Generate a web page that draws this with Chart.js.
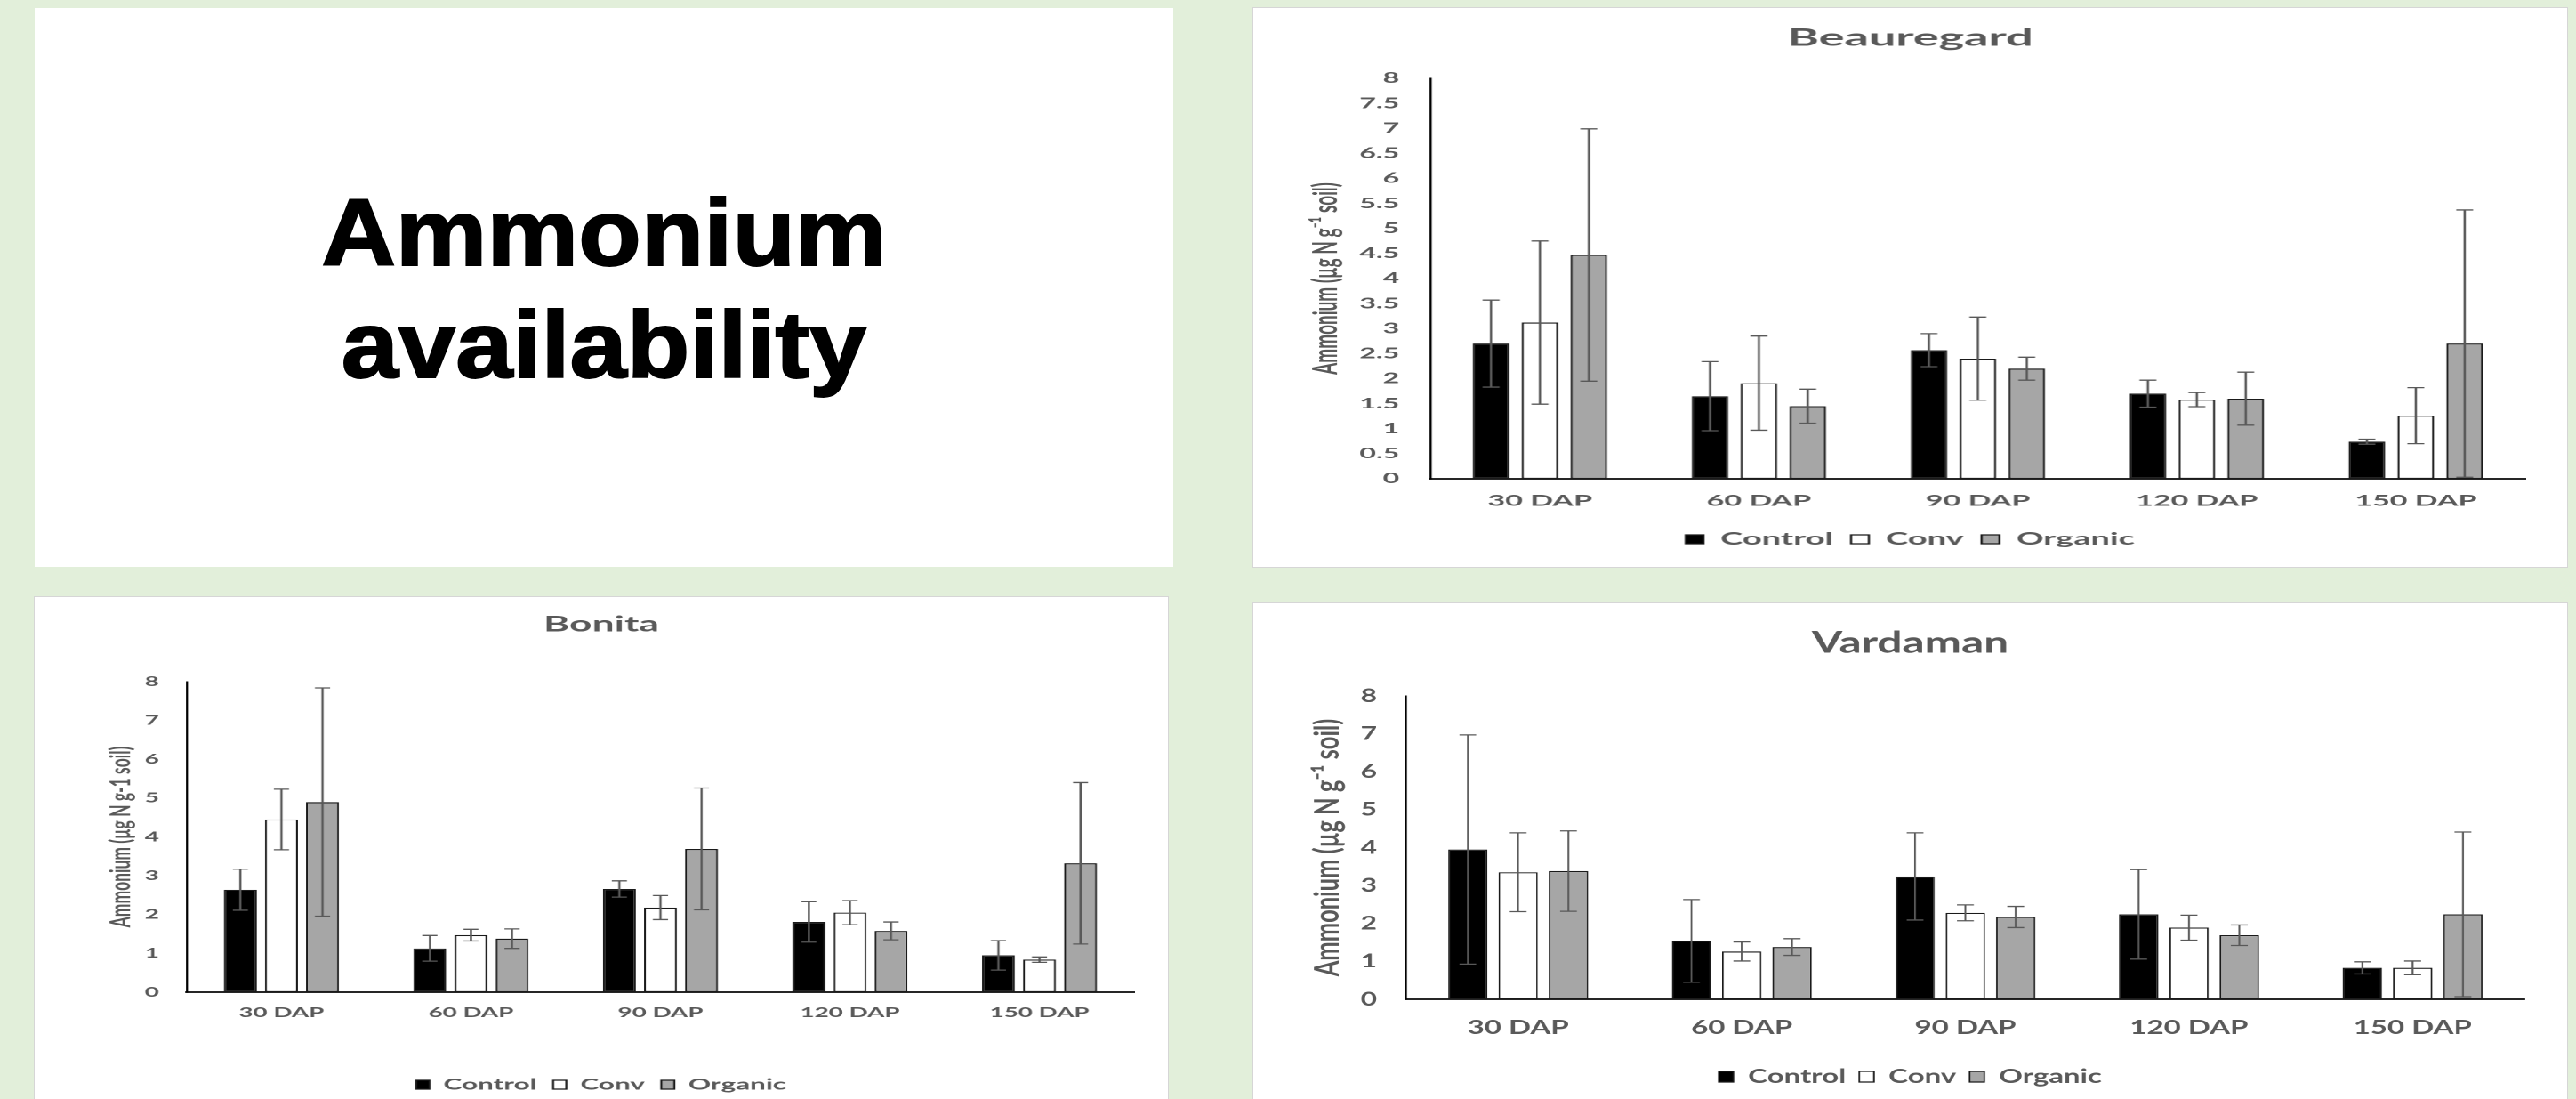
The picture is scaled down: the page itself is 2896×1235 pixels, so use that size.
<!DOCTYPE html>
<html>
<head>
<meta charset="utf-8">
<title>Ammonium availability</title>
<script src="https://cdn.jsdelivr.net/npm/chart.js@4.4.1/dist/chart.umd.min.js"></script>
<style>
    html, body {
        margin: 0;
        padding: 0;
        width: 2896px;
        height: 1235px;
        overflow: hidden;
        background: #e2efda;
    }
    .panel {
        position: absolute;
        background: #ffffff;
        overflow: hidden;
    }
    .chart-panel {
        box-shadow: 0 0 0 1px #d6d6d6;
    }
    .panel canvas {
        display: block;
        transform-origin: 0 0;
    }
    .big-title {
        position: absolute;
        left: 0;
        right: 0;
        top: 190px;
        text-align: center;
        font-family: "Liberation Sans", Arial, sans-serif;
        font-weight: bold;
        font-size: 105px;
        line-height: 126px;
        color: #000;
        -webkit-text-stroke: 2px #000;
        transform: scaleX(1.1);
    }
</style>
</head>
<body>

<div class="panel" style="left:39px; top:9px; width:1280px; height:628px;">
    <div class="big-title">Ammonium<br>availability</div>
</div>

<div class="panel chart-panel" style="left:1409px; top:9px; width:1477px; height:628px;">
    <canvas id="beauregardChart" width="738" height="628" style="transform:scaleX(2.00136);"></canvas>
</div>

<div class="panel chart-panel" style="left:39px; top:671px; width:1274px; height:580px;">
    <canvas id="bonitaChart" width="689" height="570" style="transform:scaleX(1.84906);"></canvas>
</div>

<div class="panel chart-panel" style="left:1409px; top:678px; width:1477px; height:580px;">
    <canvas id="vardamanChart" width="985" height="570" style="transform:scaleX(1.49949);"></canvas>
</div>

<script>
const categories = ['30 DAP', '60 DAP', '90 DAP', '120 DAP', '150 DAP'];
const seriesNames = ['Control', 'Conv', 'Organic'];

// Beauregard
const beauregardControl = [2.70, 1.65, 2.57, 1.70, 0.74];
const beauregardConv = [3.12, 1.91, 2.40, 1.58, 1.26];
const beauregardOrganic = [4.47, 1.45, 2.20, 1.60, 2.70];
const beauregardControlErr = [0.87, 0.69, 0.33, 0.27, 0.05];
const beauregardConvErr = [1.63, 0.94, 0.83, 0.14, 0.56];
const beauregardOrganicErr = [2.52, 0.34, 0.23, 0.53, 2.67];

// Bonita
const bonitaControl = [2.64, 1.13, 2.66, 1.81, 0.95];
const bonitaConv = [4.45, 1.47, 2.18, 2.05, 0.84];
const bonitaOrganic = [4.90, 1.38, 3.69, 1.58, 3.32];
const bonitaControlErr = [0.53, 0.33, 0.21, 0.52, 0.38];
const bonitaConvErr = [0.78, 0.15, 0.31, 0.31, 0.07];
const bonitaOrganicErr = [2.94, 0.25, 1.57, 0.23, 2.08];

// Vardaman
const vardamanControl = [3.95, 1.54, 3.24, 2.24, 0.83];
const vardamanConv = [3.35, 1.26, 2.28, 1.89, 0.83];
const vardamanOrganic = [3.38, 1.38, 2.17, 1.69, 2.24];
const vardamanControlErr = [3.02, 1.09, 1.15, 1.18, 0.16];
const vardamanConvErr = [1.04, 0.25, 0.21, 0.33, 0.18];
const vardamanOrganicErr = [1.06, 0.22, 0.28, 0.27, 2.17];

const FONT = 'Lato, "Open Sans", sans-serif';
const TEXT_COLOR = '#595959';
const FILLS = ['#000000', '#ffffff', '#a6a6a6'];

// Draws +/- error bars on top of every bar, using the chart's own y scale
const ErrorBars = {
    id: 'errorBars',
    afterDatasetsDraw(chart, _args, opts) {
        const ctx = chart.ctx;
        const yScale = chart.scales.y;
        ctx.save();
        ctx.strokeStyle = opts.color;
        ctx.lineWidth = opts.width;
        chart.data.datasets.forEach(function (ds, di) {
            const meta = chart.getDatasetMeta(di);
            meta.data.forEach(function (bar, i) {
                const v = ds.data[i];
                const e = ds.errors[i];
                const yTop = yScale.getPixelForValue(v + e);
                const yBot = yScale.getPixelForValue(Math.max(0, v - e));
                ctx.beginPath();
                ctx.moveTo(bar.x, yTop);
                ctx.lineTo(bar.x, yBot);
                ctx.moveTo(bar.x - opts.cap, yTop);
                ctx.lineTo(bar.x + opts.cap, yTop);
                ctx.moveTo(bar.x - opts.cap, yBot);
                ctx.lineTo(bar.x + opts.cap, yBot);
                ctx.stroke();
            });
        });
        ctx.restore();
    }
};

function makeDatasets(values, errors, L) {
    return seriesNames.map(function (name, i) {
        return {
            label: name,
            data: values[i],
            errors: errors[i],
            backgroundColor: FILLS[i],
            borderColor: '#1a1a1a',
            borderWidth: 1.2,
            borderSkipped: false,
            categoryPercentage: L.catPct,
            barPercentage: L.barPct
        };
    });
}

function buildChart(canvasId, title, values, errors, L) {
    const canvas = document.getElementById(canvasId);
    if (!canvas) return null;

    return new Chart(canvas, {
        type: 'bar',
        data: {
            labels: categories,
            datasets: makeDatasets(values, errors, L)
        },
        options: {
            responsive: false,
            animation: false,
            devicePixelRatio: 2,
            layout: {
                padding: { top: 0, left: 0, right: 0, bottom: L.padBottom }
            },
            plugins: {
                title: {
                    display: true,
                    text: title,
                    color: TEXT_COLOR,
                    font: { family: FONT, size: L.titleSize, weight: 'bold' },
                    padding: { top: L.titleTop, bottom: L.titleBottom }
                },
                legend: {
                    position: 'bottom',
                    labels: {
                        color: TEXT_COLOR,
                        font: { family: FONT, size: L.legendSize, weight: 'bold' },
                        boxWidth: L.boxW,
                        boxHeight: L.boxH,
                        padding: 10
                    }
                },
                tooltip: { enabled: false },
                errorBars: { color: '#595959', width: 1.3, cap: L.cap }
            },
            scales: {
                x: {
                    grid: { display: false, drawTicks: false },
                    border: { display: true, color: '#262626', width: 2 },
                    ticks: {
                        color: TEXT_COLOR,
                        font: { family: FONT, size: L.xTickSize, weight: 'bold' },
                        padding: L.xTickPad
                    },
                    afterFit: function (scale) { scale.height = L.xHeight; }
                },
                y: {
                    min: 0,
                    max: 8,
                    grid: { display: false, drawTicks: false },
                    border: { display: true, color: '#000000', width: 1.2 },
                    ticks: {
                        stepSize: L.step,
                        color: TEXT_COLOR,
                        font: { family: FONT, size: L.yTickSize, weight: 'bold' },
                        padding: L.yTickPad,
                        callback: function (value) {
                            return String(Math.round(value * 10) / 10);
                        }
                    },
                    title: {
                        display: true,
                        text: L.yTitle,
                        color: TEXT_COLOR,
                        font: { family: FONT, size: L.yTitleSize, weight: 'bold' },
                        padding: { top: L.yTitlePad, bottom: 0 }
                    },
                    afterFit: function (scale) { scale.width = L.yWidth; }
                },
                // empty right axis, only keeps space so title and legend stay centred on the panel
                yRight: {
                    type: 'linear',
                    position: 'right',
                    display: true,
                    grid: { display: false, drawTicks: false },
                    border: { display: false },
                    ticks: { display: false },
                    afterFit: function (scale) { scale.width = L.padRight; }
                }
            }
        },
        plugins: [ErrorBars]
    });
}

document.addEventListener('DOMContentLoaded', function () {
    buildChart('beauregardChart', 'Beauregard',
        [beauregardControl, beauregardConv, beauregardOrganic],
        [beauregardControlErr, beauregardConvErr, beauregardOrganicErr],
        {
            yTitle: 'Ammonium (µg N g⁻¹ soil)',
            yWidth: 99.5, padRight: 23.5, padBottom: 11.5,
            titleSize: 27, titleTop: 17.8, titleBottom: 28.8,
            legendSize: 19, boxW: 10, boxH: 10,
            xHeight: 48.5, xTickSize: 17, xTickPad: 14.8,
            yTickSize: 16, yTickPad: 17.5, yTitleSize: 19, yTitlePad: 29.6,
            step: 0.5, cap: 4.75, catPct: 0.67, barPct: 0.75
        });

    buildChart('bonitaChart', 'Bonita',
        [bonitaControl, bonitaConv, bonitaOrganic],
        [bonitaControlErr, bonitaConvErr, bonitaOrganicErr],
        {
            yTitle: 'Ammonium (µg N g-1 soil)',
            yWidth: 92.4, padRight: 20.5, padBottom: 3.5,
            titleSize: 24, titleTop: 16.6, titleBottom: 49.6,
            legendSize: 17, boxW: 8, boxH: 10,
            xHeight: 85.5, xTickSize: 15, xTickPad: 14,
            yTickSize: 15, yTickPad: 16.8, yTitleSize: 17.5, yTitlePad: 41.9,
            step: 1, cap: 4.6, catPct: 0.65, barPct: 0.8
        });

    buildChart('vardamanChart', 'Vardaman',
        [vardamanControl, vardamanConv, vardamanOrganic],
        [vardamanControlErr, vardamanConvErr, vardamanOrganicErr],
        {
            yTitle: 'Ammonium (µg N g⁻¹ soil)',
            yWidth: 114.7, padRight: 32, padBottom: 17,
            titleSize: 33, titleTop: 25.2, titleBottom: 39.2,
            legendSize: 22, boxW: 11, boxH: 12,
            xHeight: 66, xTickSize: 22, xTickPad: 18.8,
            yTickSize: 21, yTickPad: 22, yTitleSize: 25.5, yTitlePad: 40.7,
            step: 1, cap: 6.3, catPct: 0.675, barPct: 0.78
        });
});
</script>
</body>
</html>
